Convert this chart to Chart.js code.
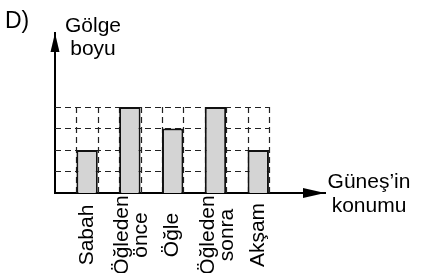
<!DOCTYPE html>
<html>
<head>
<meta charset="utf-8">
<script src="https://cdn.jsdelivr.net/npm/chart.js@4.4.1/dist/chart.umd.min.js"></script>
<style>
html, body { margin: 0; padding: 0; background: #fff; }
canvas { display: block; }
</style>
</head>
<body>
<canvas id="myChart" width="423" height="273"></canvas>
<script>
var categories = [["Sabah"], ["Öğleden", "önce"], ["Öğle"], ["Öğleden", "sonra"], ["Akşam"]];
var shadowLength = [2, 4, 3, 4, 2];
var gridLevels = [1, 2, 3, 4];
var yTitle = ["Gölge", "boyu"];
var xTitle = ["Güneş’in", "konumu"];
var panelLabel = "D)";

var FONT = '21px "Liberation Sans", Arial, sans-serif';

// every category takes two grid columns, its bar sits in the second one
function slot(i) {
    return i * 2 + 1.5;
}

var ctx = document.getElementById("myChart");

var sketch = {
    id: "sketch",
    beforeDatasetsDraw: function (chart) {
        var c = chart.ctx, x = chart.scales.x, y = chart.scales.y;
        var cols = categories.length * 2;
        var top = gridLevels[gridLevels.length - 1];
        c.save();
        c.strokeStyle = "#222";
        c.lineWidth = 1.2;
        c.setLineDash([6, 4]);
        gridLevels.forEach(function (v) {
            var py = Math.round(y.getPixelForValue(v)) + 0.5;
            c.beginPath();
            c.moveTo(x.getPixelForValue(0), py);
            c.lineTo(x.getPixelForValue(cols), py);
            c.stroke();
        });
        for (var k = 1; k <= cols; k++) {
            var px = Math.round(x.getPixelForValue(k)) + 0.5;
            c.beginPath();
            c.moveTo(px, y.getPixelForValue(top));
            c.lineTo(px, y.getPixelForValue(0));
            c.stroke();
        }
        c.restore();
    },
    afterDraw: function (chart) {
        var c = chart.ctx, a = chart.chartArea, x = chart.scales.x;
        c.save();
        c.fillStyle = "#000";

        // arrow heads
        c.beginPath();
        c.moveTo(a.left, a.top);
        c.lineTo(a.left - 4.5, a.top + 19);
        c.lineTo(a.left + 4.5, a.top + 19);
        c.closePath();
        c.fill();
        c.beginPath();
        c.moveTo(a.right, a.bottom);
        c.lineTo(a.right - 22, a.bottom - 5);
        c.lineTo(a.right - 22, a.bottom + 5);
        c.closePath();
        c.fill();

        c.textBaseline = "alphabetic";
        c.textAlign = "left";
        c.font = '23px "Liberation Sans", Arial, sans-serif';
        c.fillText(panelLabel, 5, 28);
        c.font = FONT;
        c.textAlign = "center";
        c.fillText(yTitle[0], 93, 32);
        c.fillText(yTitle[1], 93, 55);
        c.fillText(xTitle[0], 369, 188);
        c.fillText(xTitle[1], 369, 212);

        // rotated category names under the bars
        c.textBaseline = "middle";
        categories.forEach(function (lines, i) {
            var px = x.getPixelForValue(slot(i));
            c.save();
            c.translate(px, 235);
            c.rotate(-Math.PI / 2);
            lines.forEach(function (t, j) {
                var off = (j - (lines.length - 1) / 2) * 19 + (lines.length > 1 ? 2 : 0);
                c.fillText(t, 0, off);
            });
            c.restore();
        });
        c.restore();
    }
};

var myChart = new Chart(ctx, {
    type: "bar",
    data: {
        datasets: [{
            label: "Gölge boyu",
            data: shadowLength.map(function (v, i) {
                return {x: slot(i), y: v};
            }),
            backgroundColor: "#d4d4d4",
            borderColor: "#111",
            borderWidth: 2,
            categoryPercentage: 1,
            barPercentage: 0.5
        }]
    },
    options: {
        responsive: false,
        animation: false,
        layout: {padding: {left: 55, top: 33, right: 98, bottom: 0}},
        plugins: {
            legend: {display: false},
            tooltip: {enabled: false}
        },
        scales: {
            x: {
                type: "linear",
                min: 0,
                max: 12.62,
                offset: false,
                grid: {display: false},
                border: {display: true, color: "#000", width: 2},
                ticks: {display: false},
                afterBuildTicks: function (s) {
                    s.ticks = categories.map(function (c, i) {
                        return {value: slot(i)};
                    });
                },
                afterFit: function (s) {
                    s.height = 80;
                }
            },
            y: {
                min: 0,
                max: 7.44,
                grid: {display: false},
                border: {display: true, color: "#000", width: 2},
                ticks: {display: false},
                afterFit: function (s) {
                    s.width = 0;
                }
            }
        }
    },
    plugins: [sketch]
});
</script>
</body>
</html>
